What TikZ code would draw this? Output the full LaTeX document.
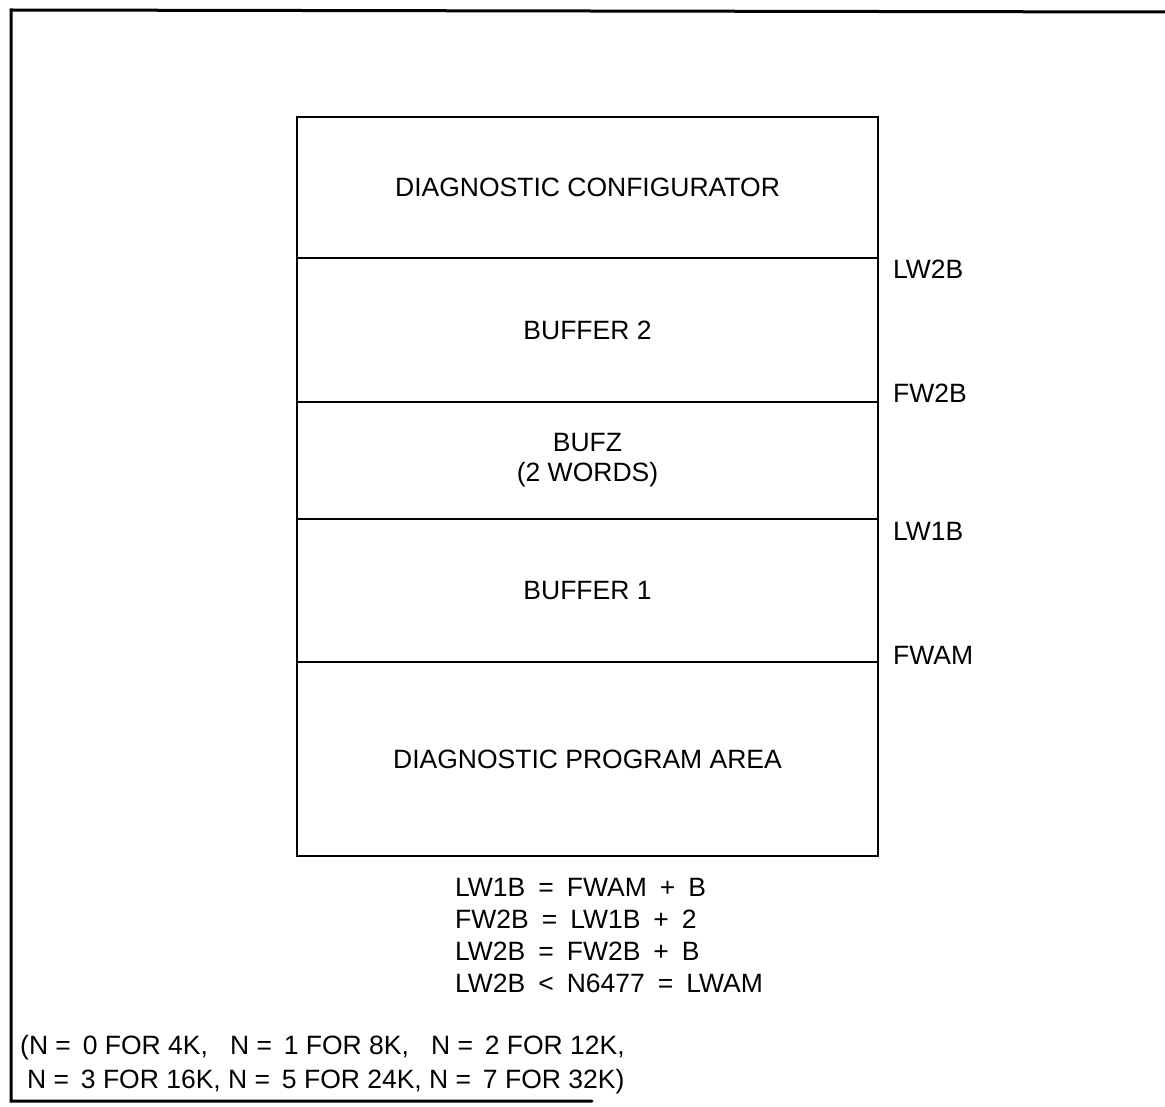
\documentclass[tikz,border=0pt]{standalone}
\usepackage{fontspec}
\setmainfont{Liberation Sans}
\newcommand{\eqgap}{\hspace{13pt}}
\begin{document}
\begin{tikzpicture}[x=1pt,y=-1pt,
  every node/.style={font=\fontsize{26.5}{32}\selectfont, inner sep=0pt},
  frameline/.style={line width=3pt, line cap=round},
  section/.style={draw, line width=1.9pt, rectangle, minimum width=581pt, anchor=north, align=center},
  tag/.style={anchor=west},
  eq/.style={anchor=base west}]
\useasboundingbox (0,0) rectangle (1165,1107);
% outer frame (open at the right)
\coordinate (ftr) at (1165,12);
\coordinate (ftl) at (11,10);
\coordinate (fbl) at (11,1101);
\coordinate (fbr) at (592,1101);
\draw[frameline] (ftr) -- (ftl) -- (fbl) -- (fbr);
% memory map
\node[section, minimum height=141pt] (conf) at (587.5,116) {DIAGNOSTIC CONFIGURATOR};
\node[section, minimum height=144pt] (buf2) at (587.5,257) {BUFFER 2};
\node[section, minimum height=117pt] (bufz) at (587.5,401) {BUFZ\\[-2pt](2 WORDS)};
\node[section, minimum height=143pt] (buf1) at (587.5,518) {BUFFER 1};
\node[section, minimum height=194pt] (prog) at (587.5,661) {DIAGNOSTIC PROGRAM AREA};
% boundary labels
\node[tag] (lw2b) at (893,269) {LW2B};
\node[tag] (fw2b) at (893,393) {FW2B};
\node[tag] (lw1b) at (893,531) {LW1B};
\node[tag] (fwam) at (893,655) {FWAM};
% equations
\node[eq] (e1) at (455,896) {LW1B\eqgap=\eqgap FWAM\eqgap+\eqgap B};
\node[eq] (e2) at (455,928) {FW2B\eqgap=\eqgap LW1B\eqgap+\eqgap 2};
\node[eq] (e3) at (455,960) {LW2B\eqgap=\eqgap FW2B\eqgap+\eqgap B};
\node[eq] (e4) at (455,992) {LW2B\eqgap<\eqgap N6477\eqgap=\eqgap LWAM};
% note
\node[eq] (n1) at (20,1054) {(N = \,0 FOR 4K, \ \ N = \,1 FOR 8K, \ \ N = \,2 FOR 12K,};
\node[eq] (n2) at (27,1088) {N = \,3 FOR 16K, N = \,5 FOR 24K, N = \,7 FOR 32K)};
\end{tikzpicture}
\end{document}
